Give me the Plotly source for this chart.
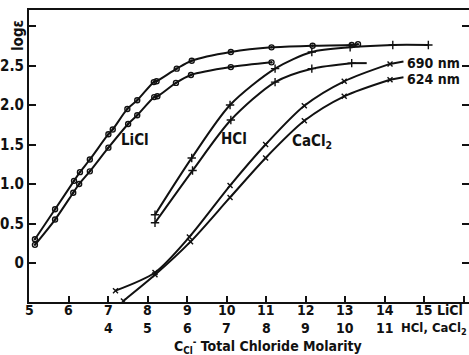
import plotly.graph_objects as go

# ---------------- data (x on LiCl molarity scale) ----------------
LICL_690_X = [5.15, 5.66, 6.14, 6.29, 6.54, 7.01, 7.12, 7.49, 7.74, 8.16, 8.23, 8.74, 9.12, 10.11, 11.14, 12.18, 13.17, 13.33]
LICL_690_Y = [0.30, 0.68, 1.04, 1.15, 1.31, 1.63, 1.69, 1.95, 2.06, 2.29, 2.30, 2.46, 2.56, 2.67, 2.73, 2.75, 2.76, 2.77]
LICL_624_X = [5.15, 5.66, 6.12, 6.27, 6.54, 7.01, 7.51, 7.74, 8.17, 8.25, 8.72, 9.10, 10.11, 11.14]
LICL_624_Y = [0.23, 0.55, 0.89, 1.00, 1.16, 1.46, 1.76, 1.87, 2.10, 2.11, 2.28, 2.38, 2.48, 2.54]

HCL_690_X = [8.19, 9.12, 10.09, 11.23, 12.16, 13.13, 14.21, 15.11]
HCL_690_Y = [0.61, 1.33, 2.00, 2.46, 2.67, 2.73, 2.76, 2.76]
HCL_624_X = [8.19, 9.14, 10.11, 11.23, 12.16, 13.17]
HCL_624_Y = [0.51, 1.17, 1.81, 2.29, 2.46, 2.53]
HCL_624_TAIL_X = [13.17, 13.55]
HCL_624_TAIL_Y = [2.53, 2.53]

CACL2_690_X = [7.19, 8.19, 9.06, 10.09, 10.99, 11.97, 12.98, 14.14]
CACL2_690_Y = [-0.35, -0.12, 0.33, 0.98, 1.50, 1.99, 2.30, 2.52]
CACL2_690_TAIL_X = [14.14, 14.48]
CACL2_690_TAIL_Y = [2.52, 2.55]
CACL2_624_X = [7.39, 8.19, 9.09, 10.09, 10.99, 11.97, 12.98, 14.14]
CACL2_624_Y = [-0.48, -0.15, 0.27, 0.83, 1.33, 1.80, 2.11, 2.32]
CACL2_624_TAIL_X = [14.14, 14.48]
CACL2_624_TAIL_Y = [2.32, 2.35]

LICL_TICKS = [5, 6, 7, 8, 9, 10, 11, 12, 13, 14, 15, 16]
LICL_TICK_TEXT = ["5", "6", "7", "8", "9", "10", "11", "12", "13", "14", "15", ""]
HCL_TICKS = [4, 5, 6, 7, 8, 9, 10, 11]
HCL_OFFSET = 3  # HCl/CaCl2 molarity = LiCl-scale value - 3
Y_TICKS = [0, 0.5, 1.0, 1.5, 2.0, 2.5, 3.0]
Y_TICK_TEXT = ["0", "0.5", "1.0", "1.5", "2.0", "2.5", ""]

FONT = "Liberation Sans Narrow, DejaVu Sans Condensed, Roboto, sans-serif"
BLACK = "#111111"

fig = go.Figure()


def curve(x, y, symbol, size=6, markers=True):
    fig.add_trace(go.Scatter(
        x=x, y=y,
        mode="lines+markers" if markers else "lines",
        line=dict(color=BLACK, width=2, shape="spline", smoothing=0.8),
        marker=dict(symbol=symbol, size=size, color=BLACK,
                    line=dict(color=BLACK, width=1.4)),
        showlegend=False, hoverinfo="skip"))


curve(LICL_690_X, LICL_690_Y, "circle-open-dot", 5)
curve(LICL_624_X, LICL_624_Y, "circle-open-dot", 5)
curve(HCL_690_X, HCL_690_Y, "cross-thin-open", 6)
curve(HCL_624_X, HCL_624_Y, "cross-thin-open", 6)
curve(HCL_624_TAIL_X, HCL_624_TAIL_Y, "circle", markers=False)
curve(CACL2_690_X, CACL2_690_Y, "x-thin-open", 5)
curve(CACL2_624_X, CACL2_624_Y, "x-thin-open", 5)
curve(CACL2_690_TAIL_X, CACL2_690_TAIL_Y, "circle", markers=False)
curve(CACL2_624_TAIL_X, CACL2_624_TAIL_Y, "circle", markers=False)

# dummy trace for right-side ticks
fig.add_trace(go.Scatter(x=[None], y=[None], yaxis="y2", showlegend=False))

W, H = 469, 355
L, R, T, B = 29, 0, 10, 53
plot_w = W - L - R
plot_h = H - T - B
px_per_unit = 39.5
x_max = 5 + plot_w / px_per_unit
y_min = (263 - 302) / 79
y_max = (263 - 10) / 79

annotations = []
TF = dict(size=15, family=FONT, color=BLACK, weight="bold")
RF = dict(size=14, family=FONT, color=BLACK, weight="bold")


def ypaper(py):
    return 1 - (py - T) / plot_h


# bottom tick label rows (LiCl row and HCl/CaCl2 row)
for v, t in zip(LICL_TICKS, LICL_TICK_TEXT):
    if t:
        annotations.append(dict(x=v, y=ypaper(310), xref="x", yref="paper",
                                text=t, showarrow=False, yanchor="middle",
                                borderpad=0, font=RF))
for v in HCL_TICKS:
    annotations.append(dict(x=v + HCL_OFFSET, y=ypaper(328), xref="x", yref="paper",
                            text=str(v), showarrow=False, yanchor="middle",
                            borderpad=0, font=RF))


def px_ann(text, px, py, xanchor="center", size=15, angle=0):
    annotations.append(dict(
        x=(px - L) / plot_w, y=ypaper(py),
        xref="paper", yref="paper", text=text, showarrow=False,
        xanchor=xanchor, yanchor="middle", textangle=angle, borderpad=0,
        font=dict(size=size, family=FONT, color=BLACK, weight="bold")))


px_ann("LiCl", 450, 310, size=14)
px_ann("HCl, CaCl<sub>2</sub>", 468, 328, xanchor="right", size=13)
px_ann("C<sub>Cl</sub><sup>-</sup> Total Chloride Molarity", 268, 346, size=14)
px_ann("logε", 18, 36, angle=-90, size=15)
px_ann("LiCl", 135, 140)
px_ann("HCl", 234, 139)
px_ann("CaCl<sub>2</sub>", 312, 141)
px_ann("690 nm", 406, 63, xanchor="left", size=14)
px_ann("624 nm", 406, 79, xanchor="left", size=14)

fig.update_layout(
    width=W, height=H,
    margin=dict(l=L, r=R, t=T, b=B, pad=0),
    paper_bgcolor="white", plot_bgcolor="white",
    font=dict(family=FONT, size=15, color=BLACK),
    xaxis=dict(range=[5, x_max], tickvals=LICL_TICKS, showticklabels=False,
               ticks="inside", ticklen=6, tickwidth=1.5, tickcolor=BLACK,
               showline=True, linewidth=2, linecolor=BLACK, mirror=True,
               showgrid=False, zeroline=False),
    yaxis=dict(range=[y_min, y_max], tickvals=Y_TICKS, ticktext=Y_TICK_TEXT,
               ticks="inside", ticklen=7, tickwidth=1.5, tickcolor=BLACK,
               showline=True, linewidth=2, linecolor=BLACK,
               showgrid=False, zeroline=False,
               tickfont=TF),
    yaxis2=dict(range=[y_min, y_max], overlaying="y", side="right",
                tickvals=Y_TICKS, showticklabels=False,
                ticks="inside", ticklen=7, tickwidth=1.5, tickcolor=BLACK,
                showline=False, showgrid=False, zeroline=False),
    annotations=annotations,
)

fig.write_html("out.html")
